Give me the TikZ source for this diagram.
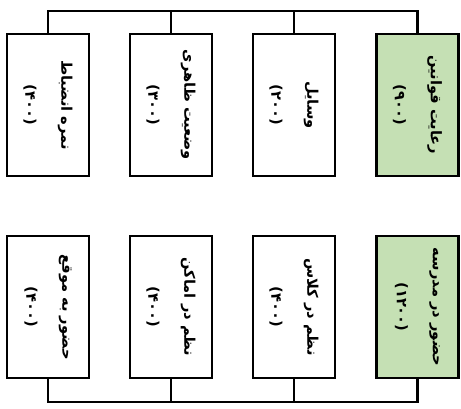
\documentclass[tikz,border=0pt]{standalone}
\usepackage{fontspec}
\newfontfamily\fa[Script=Arabic]{DejaVu Sans}
\TeXXeTstate=1
\definecolor{leafgreen}{RGB}{197,224,180}
\begin{document}
\begin{tikzpicture}[x=0.75pt,y=-0.75pt,
            box/.style={draw,line width=2pt,rotate=-90,minimum width=106.5pt,minimum height=61.5pt,
                inner sep=0pt,align=center,font=\fa\bfseries\fontsize{11}{27}\selectfont},
            bus/.style={line width=1.6pt}]
            \useasboundingbox (0,0) rectangle (461,408);
            \node[box,fill=leafgreen] (rules)      at (417.5,105) {\beginR رعایت قوانین\endR\\(۹۰۰)};
            \node[box]                (tools)      at (294,105)   {\beginR وسایل\endR\\(۲۰۰)};
            \node[box]                (looks)      at (171,105)   {\beginR وضعیت ظاهری\endR\\(۳۰۰)};
            \node[box]                (discipline) at (48,105)    {\beginR نمره انضباط\endR\\(۴۰۰)};
            \node[box,fill=leafgreen] (school)     at (417.5,307) {\beginR حضور در مدرسه\endR\\(۱۲۰۰)};
            \node[box]                (inclass)    at (294,307)   {\beginR نظم در کلاس\endR\\(۴۰۰)};
            \node[box]                (places)     at (171,307)   {\beginR نظم در اماکن\endR\\(۴۰۰)};
            \node[box]                (ontime)     at (48,307)    {\beginR حضور به موقع\endR\\(۴۰۰)};
            \coordinate (topbus) at (0,11);
            \coordinate (botbus) at (0,402);
            \draw[bus] (discipline.west) |- (rules.west |- topbus) -- (rules.west);
            \draw[bus] (looks.west) -- (looks.west |- topbus);
            \draw[bus] (tools.west) -- (tools.west |- topbus);
            \draw[bus] (ontime.east) |- (school.east |- botbus) -- (school.east);
            \draw[bus] (places.east) -- (places.east |- botbus);
            \draw[bus] (inclass.east) -- (inclass.east |- botbus);
            \draw[line width=1pt] ([xshift=1.2pt]rules.north) ++(0,-3) -- ++(0,6);
            \draw[line width=1pt] ([xshift=1.2pt]school.north) ++(0,-3) -- ++(0,6);
        \end{tikzpicture}
\end{document}
